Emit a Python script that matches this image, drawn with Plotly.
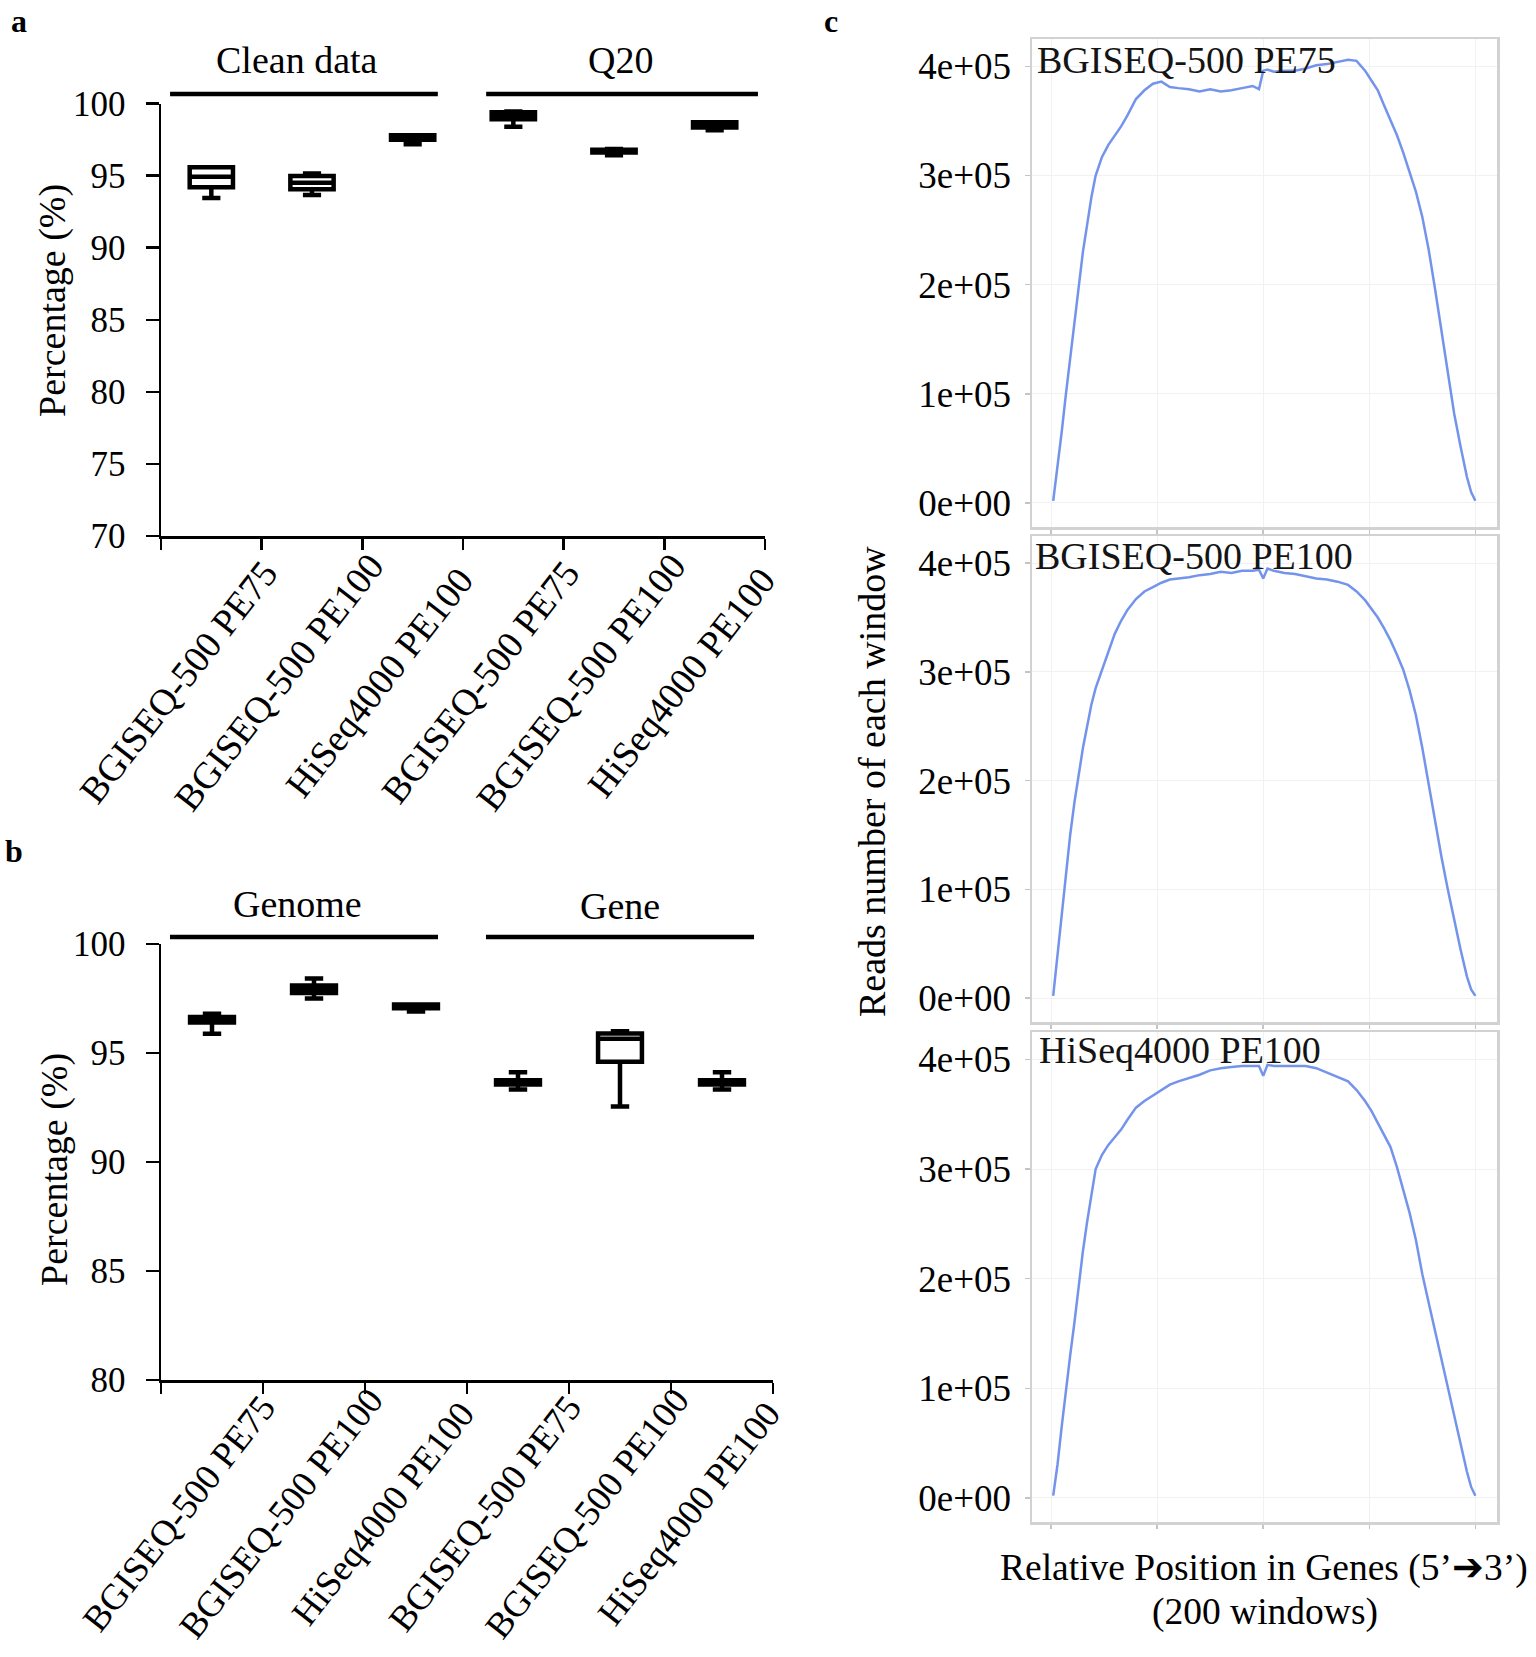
import plotly.graph_objects as go
import numpy as np

# ---------------- data ----------------
platforms = ["BGISEQ-500 PE75", "BGISEQ-500 PE100", "HiSeq4000 PE100"]
categories = platforms + platforms
cat_pos = [1, 2, 3, 4, 5, 6]
boundary_ticks = [0.5, 1.5, 2.5, 3.5, 4.5, 5.5, 6.5]

# panel a: Clean data (1-3), Q20 (4-6)
a_q1 = [94.2, 94.05, 97.5, 98.92, 96.6, 98.35]
a_med = [94.93, 94.5, 97.62, 99.1, 96.7, 98.5]
a_q3 = [95.58, 94.98, 97.8, 99.4, 96.8, 98.7]
a_min = [93.45, 93.66, 97.18, 98.4, 96.42, 98.15]
a_max = [95.58, 95.15, 97.8, 99.45, 96.85, 98.7]
a_ticks = [70, 75, 80, 85, 90, 95, 100]

# panel b: Genome (1-3), Gene (4-6)
b_q1 = [96.4, 97.75, 97.05, 93.55, 94.6, 93.55]
b_med = [96.5, 97.9, 97.12, 93.65, 95.65, 93.65]
b_q3 = [96.65, 98.1, 97.22, 93.75, 95.9, 93.75]
b_min = [95.88, 97.5, 96.9, 93.33, 92.55, 93.33]
b_max = [96.8, 98.42, 97.22, 94.12, 96.0, 94.12]
b_ticks = [80, 85, 90, 95, 100]

# panel c: reads per window (units of 1e5) at selected windows
windows = [1, 3, 5, 7, 9, 11, 13, 15, 17, 19,
           21, 24, 27, 30, 33, 36, 40, 44, 48, 52,
           56, 60, 65, 70, 75, 80, 85, 90, 95, 98,
           100, 102, 105, 110, 115, 120, 125, 130, 135, 140,
           144, 148, 151, 154, 157, 160, 163, 166, 169, 172,
           175, 178, 181, 184, 187, 190, 193, 196, 198, 200]
reads_pe75 = [0.02, 0.32, 0.65, 1.0, 1.32, 1.65, 2.0, 2.3, 2.55, 2.8,
              3.0, 3.17, 3.28, 3.36, 3.45, 3.55, 3.7, 3.78, 3.84, 3.86,
              3.81, 3.80, 3.79, 3.77, 3.79, 3.77, 3.78, 3.80, 3.82, 3.79,
              3.96, 3.97, 3.95, 3.96, 3.96, 3.98, 4.01, 4.02, 4.04, 4.06,
              4.05, 3.96, 3.87, 3.78, 3.64, 3.50, 3.37, 3.21, 3.04, 2.85,
              2.62, 2.32, 1.96, 1.57, 1.18, 0.82, 0.52, 0.24, 0.10, 0.02]
reads_pe100 = [0.02, 0.4, 0.8, 1.15, 1.5, 1.8, 2.05, 2.3, 2.5, 2.7,
               2.85, 3.02, 3.2, 3.35, 3.47, 3.57, 3.67, 3.74, 3.78, 3.82,
               3.85, 3.86, 3.87, 3.89, 3.90, 3.92, 3.91, 3.93, 3.93, 3.94,
               3.86, 3.95, 3.93, 3.91, 3.90, 3.88, 3.86, 3.85, 3.83, 3.80,
               3.74, 3.66, 3.58, 3.50, 3.40, 3.29, 3.16, 3.02, 2.83, 2.60,
               2.30, 1.97, 1.62, 1.30, 1.00, 0.72, 0.45, 0.20, 0.08, 0.02]
reads_hiseq = [0.02, 0.3, 0.65, 1.0, 1.3, 1.6, 1.95, 2.25, 2.52, 2.78,
               3.0, 3.13, 3.22, 3.29, 3.36, 3.45, 3.56, 3.62, 3.67, 3.72,
               3.77, 3.8, 3.83, 3.86, 3.9, 3.92, 3.93, 3.94, 3.94, 3.94,
               3.85, 3.95, 3.94, 3.94, 3.94, 3.94, 3.92, 3.88, 3.84, 3.80,
               3.72, 3.62, 3.53, 3.42, 3.30, 3.20, 3.02, 2.82, 2.60, 2.35,
               2.04, 1.78, 1.52, 1.27, 1.02, 0.76, 0.50, 0.24, 0.10, 0.02]
c_titles = ["BGISEQ-500 PE75", "BGISEQ-500 PE100", "HiSeq4000 PE100"]
c_yticks = [0, 1e5, 2e5, 3e5, 4e5]
c_yticktext = ["0e+00", "1e+05", "2e+05", "3e+05", "4e+05"]
c_xticks = [0, 50, 100, 150, 200]

# ---------------- geometry helpers ----------------
FW, FH = 1536, 1657
SERIF = "Liberation Serif, Times New Roman, serif"


def xd(a, b):
    return [a / FW, b / FW]


def yd(top, bot):
    return [1 - bot / FH, 1 - top / FH]


def px(x):
    return x / FW


def py(y):
    return 1 - y / FH


fig = go.Figure()

box_style = dict(fillcolor="white", line=dict(color="black", width=4.5),
                 width=0.43, whiskerwidth=0.42, boxpoints=False,
                 showlegend=False, hoverinfo="skip")

fig.add_trace(go.Box(x=cat_pos, q1=a_q1, median=a_med, q3=a_q3,
                     lowerfence=a_min, upperfence=a_max,
                     xaxis="x", yaxis="y", **box_style))
fig.add_trace(go.Box(x=cat_pos, q1=b_q1, median=b_med, q3=b_q3,
                     lowerfence=b_min, upperfence=b_max,
                     xaxis="x2", yaxis="y2", **box_style))

line_color = "rgb(116,148,236)"
for i, ser in enumerate([reads_pe75, reads_pe100, reads_hiseq]):
    fig.add_trace(go.Scatter(x=windows, y=np.array(ser) * 1e5, mode="lines",
                             line=dict(color=line_color, width=2.5),
                             xaxis=f"x{i + 3}", yaxis=f"y{i + 3}",
                             showlegend=False, hoverinfo="skip"))

tickfont = dict(family=SERIF, size=35, color="black")

box_x = dict(range=[0.5, 6.5], tickvals=boundary_ticks, ticktext=[""] * 7,
             ticks="outside", ticklen=11, tickwidth=2.5, tickcolor="black",
             showline=True, linecolor="black", linewidth=2.5,
             showgrid=False, zeroline=False, fixedrange=True, automargin=False)
box_y = dict(ticks="outside", ticklen=13, tickwidth=2.5, tickcolor="black",
             showline=True, linecolor="black", linewidth=2.5,
             showgrid=False, zeroline=False, tickfont=tickfont,
             ticklabelstandoff=13, automargin=False)

layout = dict(
    template="none",
    width=FW, height=FH, margin=dict(l=0, r=0, t=0, b=0, pad=0, autoexpand=False),
    paper_bgcolor="white", plot_bgcolor="white", showlegend=False,
    xaxis=dict(domain=xd(161, 765), anchor="y", **box_x),
    yaxis=dict(domain=yd(103.6, 536), anchor="x", range=[70, 100],
               tickvals=a_ticks, **box_y),
    xaxis2=dict(domain=xd(161, 773), anchor="y2", **box_x),
    yaxis2=dict(domain=yd(944, 1380), anchor="x2", range=[80, 100],
                tickvals=b_ticks, **box_y),
)

c_frames = [(39, 527), (536, 1022), (1032, 1522)]
for i, (t, b) in enumerate(c_frames):
    n = i + 3
    layout[f"xaxis{n}"] = dict(domain=xd(1032, 1497), anchor=f"y{n}",
                               range=[-9.0, 210.2], tickvals=c_xticks,
                               showticklabels=False, ticks="outside", ticklen=4,
                               tickcolor="#c4c4c4", tickwidth=1.5,
                               showline=True, mirror=True, linecolor="#d2d2d2",
                               linewidth=2.5, showgrid=True, gridcolor="#f1f1f1",
                               gridwidth=1, zeroline=False, automargin=False)
    layout[f"yaxis{n}"] = dict(domain=yd(t, b), anchor=f"x{n}",
                               range=[-0.22e5, 4.25e5], tickvals=c_yticks,
                               ticktext=c_yticktext, ticks="outside", ticklen=5,
                               tickcolor="#c4c4c4", tickwidth=1.5,
                               showline=True, mirror=True, linecolor="#d2d2d2",
                               linewidth=2.5, showgrid=True, gridcolor="#f1f1f1",
                               gridwidth=1, zeroline=False, automargin=False,
                               tickfont=dict(family=SERIF, size=37, color="black"),
                               ticklabelstandoff=6)

fig.update_layout(**layout)

ann = []


def txt(x, y, s, size=35, bold=False, angle=0, xref="paper", xanchor="center",
        yanchor="middle", color="black"):
    if bold:
        s = f"<b>{s}</b>"
    ann.append(dict(x=x, y=y, xref=xref, yref="paper", text=s, showarrow=False,
                    textangle=angle, xanchor=xanchor, yanchor=yanchor,
                    font=dict(family=SERIF, size=size, color=color)))


# panel letters (kept fully inside the page)
txt(px(19), py(1), "a", size=32, bold=True, yanchor="top")
txt(px(14), py(851), "b", size=32, bold=True)
txt(px(831), py(1), "c", size=32, bold=True, yanchor="top")

# group headers
txt(px(297), py(60), "Clean data", size=38)
txt(px(620), py(60), "Q20", size=38)
txt(px(297), py(904), "Genome", size=38)
txt(px(620), py(906), "Gene", size=38)

# y titles
txt(px(52), py(301), "Percentage (%)", size=38, angle=-90)
txt(px(54), py(1170), "Percentage (%)", size=38, angle=-90)

# rotated category labels
for pos, lab in zip(cat_pos, categories):
    ann.append(dict(x=pos - 0.33, y=py(682), xref="x", yref="paper", text=lab,
                    showarrow=False, textangle=-52, xanchor="center",
                    yanchor="middle", font=dict(family=SERIF, size=37.5, color="black")))
    ann.append(dict(x=pos - 0.33, y=py(1513), xref="x2", yref="paper", text=lab,
                    showarrow=False, textangle=-52, xanchor="center",
                    yanchor="middle", font=dict(family=SERIF, size=36.5, color="black")))

# panel c titles
for (xl, yc), s in zip([(1035, 60), (1033, 556), (1037, 1050)], c_titles):
    txt(px(xl), py(yc), s, size=38, xanchor="left", color="#141414")

txt(px(872), py(782), "Reads number of each window", size=38, angle=-90)
txt(px(1264), py(1568), "Relative Position in Genes (5’➔3’)", size=37.5)
txt(px(1265), py(1612), "(200 windows)", size=37.5)

fig.update_layout(annotations=ann)

# group header bars
shapes = []
for xref, segs, yy in [("x", [(0.59, 3.25), (3.73, 6.43)], 94),
                       ("x2", [(0.588, 3.216), (3.686, 6.314)], 937)]:
    for a, b in segs:
        shapes.append(dict(type="line", xref=xref, yref="paper", x0=a, x1=b,
                           y0=py(yy), y1=py(yy), line=dict(color="black", width=4.5)))
fig.update_layout(shapes=shapes)

fig.write_html("out.html",
               config={"displayModeBar": False, "staticPlot": True},
               post_script="document.body.style.margin='0';"
                           "document.body.style.overflow='hidden';")
